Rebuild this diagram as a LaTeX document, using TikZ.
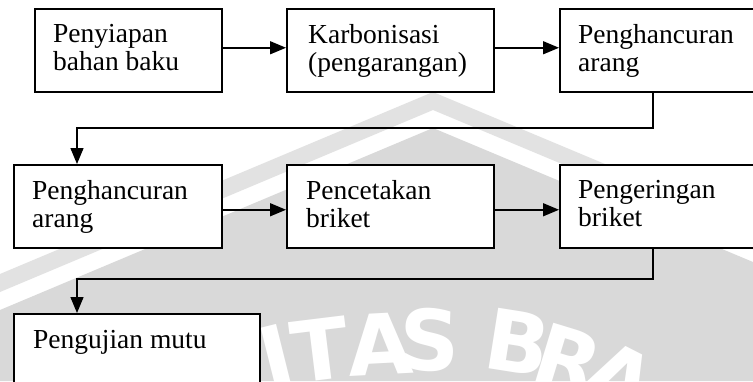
\documentclass[tikz,border=0pt]{standalone}
\usepackage{fontspec}
\setmainfont{Liberation Serif}
\newfontfamily\wmfont{DejaVu Sans}
\usetikzlibrary{arrows.meta}
\definecolor{wmgray}{HTML}{D9D9D9}
\definecolor{wmband}{HTML}{E2E2E2}
\begin{document}
\begin{tikzpicture}[x=1pt,y=-1pt,
  stepbox/.style={draw, line width=1.5pt, fill=white, anchor=north west,
    minimum height=83pt, inner sep=0pt},
  txt/.style={anchor=north west, inner sep=0pt, align=left,
    font=\fontsize{27.5}{28}\selectfont, execute at begin node=\strut},
  flow/.style={line width=1.5pt, -{Triangle[length=16pt,width=13pt]}},
  wmletter/.style={font=\wmfont\bfseries\fontsize{84}{84}\selectfont, text=white, inner sep=0pt}]
\useasboundingbox (0,0) rectangle (753,381);
\clip (0,0) rectangle (753,381);
\fill[white] (0,0) rectangle (753,381);

% background logo: roof-shaped band and filled lower part
\fill[wmband] (0,274) -- (433,92) -- (753,226) -- (753,244) -- (433,110) -- (0,292) -- cycle;
\fill[wmgray] (0,310) -- (433,128) -- (753,262) -- (753,381) -- (0,381) -- cycle;
\node[wmletter, rotate=14]  (wI) at (276,356) {I};
\node[wmletter, rotate=7]   (wT) at (320,350) {T};
\node[wmletter, rotate=3]   (wA) at (380,344) {A};
\node[wmletter, rotate=-2]  (wS) at (430,340) {S};
\node[wmletter, rotate=-9]  (wB) at (518,342) {B};
\node[wmletter, rotate=-17] (wR) at (568,360) {R};
\node[wmletter, rotate=-27] (wA2) at (620,378) {A};

% process boxes
\node[stepbox, minimum width=187pt] (b1) at (34,8) {};
\node[stepbox, minimum width=207pt] (b2) at (286,8) {};
\node[stepbox, minimum width=231pt] (b3) at (559,8) {};
\node[stepbox, minimum width=208pt] (b4) at (13,164) {};
\node[stepbox, minimum width=207pt] (b5) at (286,164) {};
\node[stepbox, minimum width=231pt] (b6) at (559,164) {};
\node[stepbox, minimum width=246pt] (b7) at (13,313) {};

\node[txt] (t1) at ([shift={(19pt,-16pt)}]b1.north west) {Penyiapan\\bahan baku};
\node[txt] (t2) at ([shift={(22pt,-16pt)}]b2.north west) {Karbonisasi\\(pengarangan)};
\node[txt] (t3) at ([shift={(19pt,-16pt)}]b3.north west) {Penghancuran\\arang};
\node[txt] (t4) at ([shift={(19pt,-16pt)}]b4.north west) {Penghancuran\\arang};
\node[txt] (t5) at ([shift={(20pt,-16pt)}]b5.north west) {Pencetakan\\briket};
\node[txt] (t6) at ([shift={(19pt,-16pt)}]b6.north west) {Pengeringan\\briket};
\node[txt] (t7) at ([shift={(20pt,-16pt)}]b7.north west) {Pengujian mutu};

% straight arrows within each row
\draw[flow] ([yshift=2.5pt]b1.east) -- ([yshift=2.5pt]b2.west);
\draw[flow] ([yshift=2.5pt]b2.east) -- ([yshift=2.5pt]b3.west);
\draw[flow] ([yshift=-3.5pt]b4.east) -- ([yshift=-3.5pt]b5.west);
\draw[flow] ([yshift=-3.5pt]b5.east) -- ([yshift=-3.5pt]b6.west);

% return connectors to the next row
\coordinate (r1a) at (653,128);
\coordinate (r1b) at (77,128);
\coordinate (r2a) at (653,279);
\coordinate (r2b) at (77,279);
\draw[flow] (b3.south -| r1a) -- (r1a) -- (r1b) -- (r1b |- b4.north);
\draw[flow] (b6.south -| r2a) -- (r2a) -- (r2b) -- (r2b |- b7.north);
\end{tikzpicture}
\end{document}
